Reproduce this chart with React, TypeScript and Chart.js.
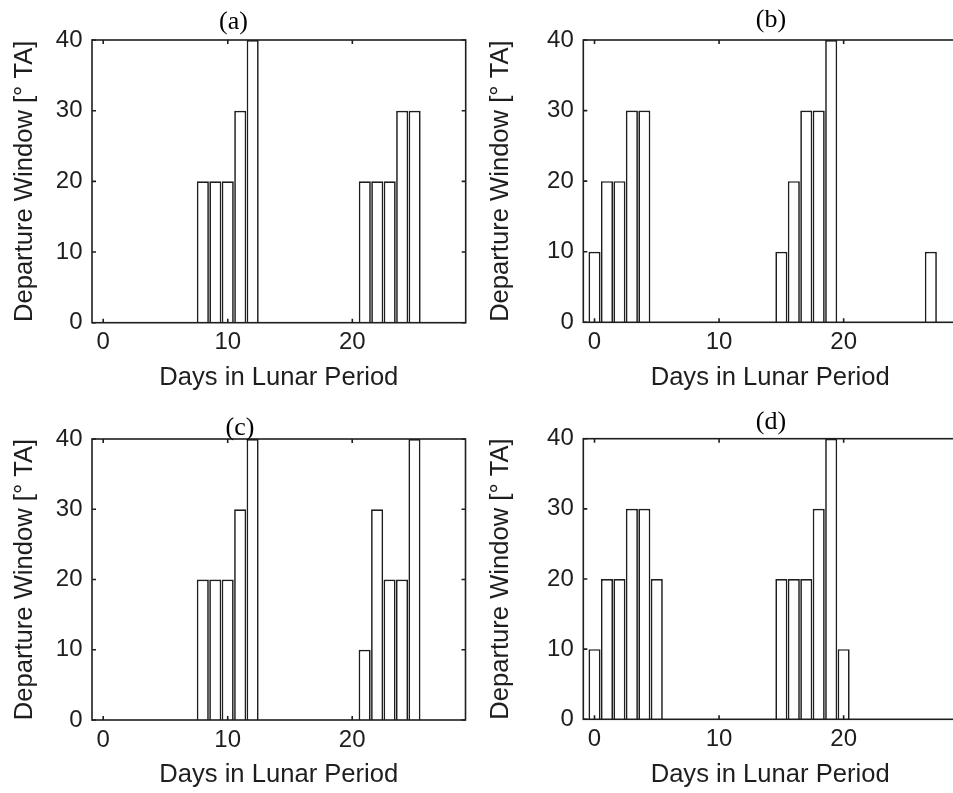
import React, { useEffect, useRef } from 'react';
import { Chart, registerables } from 'chart.js';

Chart.register(...registerables);

// ---- data ----
const DAYS = [0, 1, 2, 3, 4, 5, 6, 7, 8, 9, 10, 11, 12, 13, 14, 15, 16, 17, 18, 19, 20, 21, 22, 23, 24, 25, 26, 27, 28];
const WINDOW_A = [0, 0, 0, 0, 0, 0, 0, 0, 20, 20, 20, 30, 40, 0, 0, 0, 0, 0, 0, 0, 0, 20, 20, 20, 30, 30, 0, 0, 0];
const WINDOW_B = [10, 20, 20, 30, 30, 0, 0, 0, 0, 0, 0, 0, 0, 0, 0, 10, 20, 30, 30, 40, 0, 0, 0, 0, 0, 0, 0, 10, 0];
const WINDOW_C = [0, 0, 0, 0, 0, 0, 0, 0, 20, 20, 20, 30, 40, 0, 0, 0, 0, 0, 0, 0, 0, 10, 30, 20, 20, 40, 0, 0, 0];
const WINDOW_D = [10, 20, 20, 30, 30, 20, 0, 0, 0, 0, 0, 0, 0, 0, 0, 20, 20, 20, 30, 40, 10, 0, 0, 0, 0, 0, 0, 0, 0];
const PANEL_TITLES = ['(a)', '(b)', '(c)', '(d)'];
const X_TICKS = [0, 10, 20];
const Y_TICKS = [0, 10, 20, 30, 40];
const X_LABEL = 'Days in Lunar Period';
const Y_LABEL = 'Departure Window [° TA]';

// ---- layout (not data) ----
const X_MIN = -0.9;
const X_MAX = 29.1;
const Y_MIN = 0;
const Y_MAX = 40;
const INK = '#1e1e1e';
const SANS = '"Liberation Sans", Arial, sans-serif';
const SERIF = '"Liberation Serif", "Times New Roman", serif';

type PanelLayout = {
  left: number; top: number; width: number; height: number;
  areaLeft: number; areaTop: number; areaRight: number; areaBottom: number;
  titleX: number; titleY: number;
};

const LAYOUTS: PanelLayout[] = [
  { left: 0, top: 0, width: 476, height: 396, areaLeft: 92, areaTop: 40, areaRight: 465.7, areaBottom: 322.7, titleX: 233.5, titleY: 28.5 },
  { left: 476, top: 0, width: 588, height: 396, areaLeft: 107.3, areaTop: 40, areaRight: 481, areaBottom: 322.3, titleX: 295, titleY: 27 },
  { left: 0, top: 396, width: 476, height: 397, areaLeft: 92, areaTop: 43, areaRight: 465.5, areaBottom: 324, titleX: 240, titleY: 38.5 },
  { left: 476, top: 396, width: 588, height: 397, areaLeft: 107.3, areaTop: 42.7, areaRight: 481, areaBottom: 323.3, titleX: 295, titleY: 33.3 },
];

const SERIES = [WINDOW_A, WINDOW_B, WINDOW_C, WINDOW_D];

function Panel({ values, title, layout }: { values: number[]; title: string; layout: PanelLayout }) {
  const ref = useRef<HTMLCanvasElement | null>(null);

  useEffect(() => {
    const canvas = ref.current;
    if (!canvas) return;
    const tickFont = { family: SANS, size: 24, weight: 'normal' as const };
    const labelFont = { family: SANS, size: 25.6, weight: 'normal' as const };

    const decor = {
      id: 'panelDecor',
      afterDatasetsDraw(chart: any) {
        const { ctx, chartArea } = chart;
        const xs = chart.scales.x;
        const ys = chart.scales.y;
        const { left, top, right, bottom } = chartArea;
        ctx.save();
        ctx.strokeStyle = INK;
        ctx.lineWidth = 1.6;
        ctx.strokeRect(left, top, right - left, bottom - top);
        const tl = 4;
        ctx.beginPath();
        X_TICKS.forEach((v) => {
          const px = xs.getPixelForValue(v);
          ctx.moveTo(px, bottom);
          ctx.lineTo(px, bottom - tl);
          ctx.moveTo(px, top);
          ctx.lineTo(px, top + tl);
        });
        Y_TICKS.forEach((v) => {
          const py = ys.getPixelForValue(v);
          ctx.moveTo(left, py);
          ctx.lineTo(left + tl, py);
          ctx.moveTo(right, py);
          ctx.lineTo(right - tl, py);
        });
        ctx.stroke();
        ctx.restore();
      },
      afterDraw(chart: any) {
        const { ctx } = chart;
        ctx.save();
        ctx.fillStyle = '#000';
        ctx.font = `26px ${SERIF}`;
        ctx.textAlign = 'center';
        ctx.textBaseline = 'alphabetic';
        ctx.fillText(title, layout.titleX, layout.titleY);
        ctx.restore();
      },
    };

    const chart = new Chart(canvas, {
      type: 'bar',
      data: {
        datasets: [
          {
            data: DAYS.map((d, i) => ({ x: d, y: values[i] })),
            backgroundColor: '#ffffff',
            borderColor: INK,
            borderWidth: 1.7,
            barPercentage: 0.97,
            categoryPercentage: 1,
          },
        ],
      },
      options: {
        animation: false,
        responsive: false,
        maintainAspectRatio: false,
        devicePixelRatio: 1,
        layout: {
          padding: { left: 0, top: layout.areaTop, right: layout.width - layout.areaRight, bottom: 0 },
        },
        plugins: {
          legend: { display: false },
          tooltip: { enabled: false },
          title: { display: false },
        },
        scales: {
          x: {
            type: 'linear',
            min: X_MIN,
            max: X_MAX,
            offset: false,
            grid: { display: false, drawTicks: false },
            border: { display: false },
            afterBuildTicks: (s: any) => {
              s.ticks = X_TICKS.map((v) => ({ value: v }));
            },
            afterFit: (s: any) => {
              s.height = layout.height - layout.areaBottom;
            },
            ticks: { font: tickFont, color: INK, padding: 5.5, maxRotation: 0, autoSkip: false },
            title: { display: true, text: X_LABEL, font: labelFont, color: INK, padding: { top: 0, bottom: 3 } },
          },
          y: {
            type: 'linear',
            min: Y_MIN,
            max: Y_MAX,
            grid: { display: false, drawTicks: false },
            border: { display: false },
            afterBuildTicks: (s: any) => {
              s.ticks = Y_TICKS.map((v) => ({ value: v }));
            },
            afterFit: (s: any) => {
              s.width = layout.areaLeft;
            },
            ticks: { font: tickFont, color: INK, padding: 9.5, autoSkip: false },
            title: { display: true, text: Y_LABEL, font: labelFont, color: INK, padding: { top: 9.5, bottom: 0 } },
          },
        },
      } as any,
      plugins: [decor],
    });

    return () => chart.destroy();
  }, [values, title, layout]);

  return (
    <div
      style={{
        position: 'absolute',
        left: layout.left,
        top: layout.top,
        width: layout.width,
        height: layout.height,
      }}
    >
      <canvas
        ref={ref}
        width={layout.width}
        height={layout.height}
        style={{ width: layout.width, height: layout.height, display: 'block' }}
      />
    </div>
  );
}

export default function App() {
  return (
    <div
      style={{
        position: 'absolute',
        left: 0,
        top: 0,
        width: 953,
        height: 793,
        overflow: 'hidden',
        background: '#ffffff',
      }}
    >
      {SERIES.map((vals, i) => (
        <Panel key={i} values={vals} title={PANEL_TITLES[i]} layout={LAYOUTS[i]} />
      ))}
    </div>
  );
}
